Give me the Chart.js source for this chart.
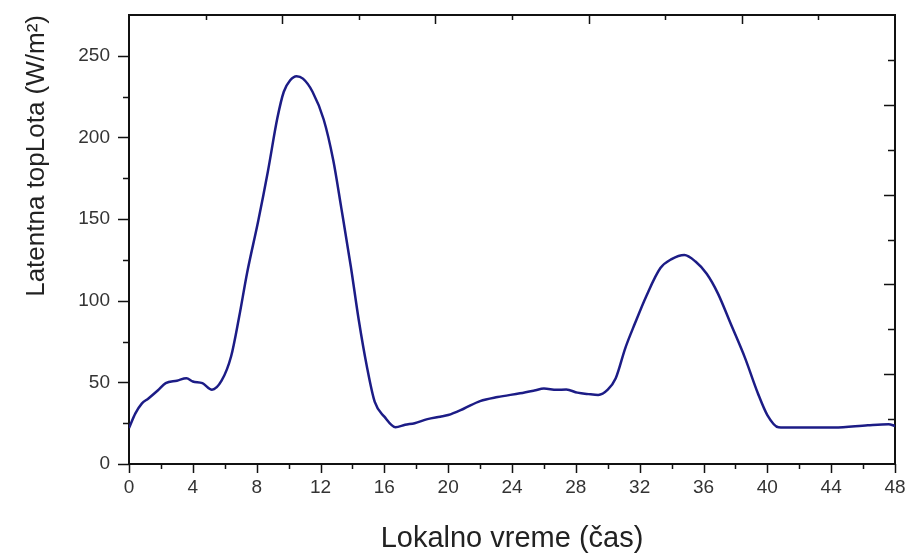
<!DOCTYPE html>
<html>
<head>
<meta charset="utf-8">
<script src="https://cdn.jsdelivr.net/npm/chart.js@4/dist/chart.umd.min.js"></script>
<style>
  html, body { margin: 0; padding: 0; background: #fff; }
  #wrap { width: 912px; height: 559px; }
</style>
</head>
<body>
<div id="wrap"><canvas id="grafik"></canvas></div>
<script>
// vreme (h) i latentna toplota (W/m2), procitano sa slike
var sati = [0, 0.4, 0.8, 1.2, 1.8, 2.3, 3.0, 3.6, 4.0, 4.6, 5.2, 5.8, 6.4, 6.9, 7.4, 8.1, 8.7, 9.3, 9.7, 10.1,
    10.5, 10.9, 11.5, 12.2, 12.8, 13.3, 13.9, 14.4, 14.9, 15.4, 16.0, 16.7, 17.3, 17.9, 18.7, 19.5, 20.0, 21.0,
    22.0, 23.1, 24.5, 25.4, 26.0, 26.8, 27.4, 28.1, 28.8, 29.4, 30.0, 30.5, 31.1, 31.7, 32.4, 33.3, 34.0, 34.8,
    35.5, 36.2, 36.9, 37.7, 38.6, 39.4, 40.0, 40.7, 41.5, 44.2, 46.3, 47.6, 48.0];
var toplota = [22, 31, 37, 40, 45, 49.5, 51, 52.5, 50.5, 49.5, 45.5, 51, 66, 90, 117, 149, 179, 212, 228, 235,
    237.5, 236, 228, 211, 186, 157, 121, 88, 60, 38, 29, 22.5, 24, 25, 27.5, 29, 30, 34,
    38.5, 41, 43.3, 45, 46.2, 45.5, 45.6, 43.7, 42.8, 42.3, 45.5, 52.5, 71, 86, 102.5, 120, 125.5, 128,
    124, 116.5, 104.5, 86, 65, 43.5, 30, 22.5, 22.3, 22.3, 23.7, 24.3, 23.3];

var xTickovi = [0, 4, 8, 12, 16, 20, 24, 28, 32, 36, 40, 44, 48];
var yTickovi = [0, 50, 100, 150, 200, 250];

var tacke = sati.map(function (h, i) { return { x: h, y: toplota[i] }; });

// crtice na osama (spolja levo/dole, unutra gore/desno)
var crtice = {
    id: 'crtice',
    afterDraw: function (chart) {
        var c = chart.ctx;
        var sx = chart.scales.x, sy = chart.scales.y, sx2 = chart.scales.x2, sy2 = chart.scales.y2;
        var a = chart.chartArea;
        c.save();
        c.strokeStyle = '#111';
        c.lineWidth = 1.5;
        c.beginPath();
        for (var v = 0; v <= 48; v += 2) {
            var px = Math.round(sx.getPixelForValue(v)) + 0.5;
            c.moveTo(px, a.bottom);
            c.lineTo(px, a.bottom + (v % 4 === 0 ? 9 : 5));
        }
        for (var w = 0; w <= 250; w += 25) {
            var py = Math.round(sy.getPixelForValue(w)) + 0.5;
            c.moveTo(a.left, py);
            c.lineTo(a.left - (w % 50 === 0 ? 11 : 6), py);
        }
        for (var k = 1; k <= 9; k++) {
            var tx = Math.round(sx2.getPixelForValue(k)) + 0.5;
            c.moveTo(tx, a.top);
            c.lineTo(tx, a.top + (k % 2 ? 5 : 9));
            var ty = Math.round(sy2.getPixelForValue(k)) + 0.5;
            c.moveTo(a.right, ty);
            c.lineTo(a.right - (k % 2 ? 7 : 11), ty);
        }
        c.stroke();
        c.restore();
    }
};

function bezPadinga(s) {
    s.paddingTop = 0;
    s.paddingBottom = 0;
    s.paddingLeft = 0;
    s.paddingRight = 0;
}

var ctx = document.getElementById('grafik').getContext('2d');
var chart = new Chart(ctx, {
    type: 'line',
    data: {
        datasets: [{
            data: tacke,
            borderColor: '#1c1c86',
            borderWidth: 2.5,
            pointRadius: 0,
            fill: false,
            cubicInterpolationMode: 'monotone'
        }]
    },
    options: {
        responsive: true,
        maintainAspectRatio: false,
        animation: false,
        layout: { padding: { top: 15, right: 17, left: 0, bottom: 0 } },
        plugins: {
            legend: { display: false },
            tooltip: { enabled: false }
        },
        scales: {
            x: {
                type: 'linear',
                min: 0,
                max: 48,
                afterBuildTicks: function (s) { s.ticks = xTickovi.map(function (v) { return { value: v }; }); },
                grid: { display: false, drawTicks: false },
                border: { display: true, color: '#111', width: 2 },
                ticks: {
                    padding: 12,
                    color: '#333',
                    font: { family: 'Liberation Sans', size: 19 },
                    maxRotation: 0
                },
                title: {
                    display: true,
                    text: 'Lokalno vreme (čas)',
                    color: '#222',
                    font: { family: 'Liberation Sans', size: 29 },
                    padding: { top: 0, bottom: 3 }
                },
                afterFit: function (s) { s.height = 95; bezPadinga(s); }
            },
            y: {
                min: 0,
                max: 275,
                afterBuildTicks: function (s) { s.ticks = yTickovi.map(function (v) { return { value: v }; }); },
                grid: { display: false, drawTicks: false },
                border: { display: true, color: '#111', width: 2 },
                ticks: {
                    padding: 19,
                    color: '#333',
                    font: { family: 'Liberation Sans', size: 19 }
                },
                title: {
                    display: true,
                    text: 'Latentna topLota (W/m²)',
                    align: 'end',
                    color: '#222',
                    font: { family: 'Liberation Sans', size: 26 },
                    padding: { top: 21, bottom: 0 }
                },
                afterFit: function (s) { s.width = 129; bezPadinga(s); }
            },
            x2: {
                type: 'linear',
                position: 'top',
                min: 0,
                max: 10,
                grid: { display: false, drawTicks: false },
                border: { display: true, color: '#111', width: 2 },
                ticks: { display: false },
                afterFit: function (s) { s.height = 0; bezPadinga(s); }
            },
            y2: {
                position: 'right',
                min: 0,
                max: 10,
                grid: { display: false, drawTicks: false },
                border: { display: true, color: '#111', width: 2 },
                ticks: { display: false },
                afterFit: function (s) { s.width = 0; bezPadinga(s); }
            }
        }
    },
    plugins: [crtice]
});
</script>
</body>
</html>
